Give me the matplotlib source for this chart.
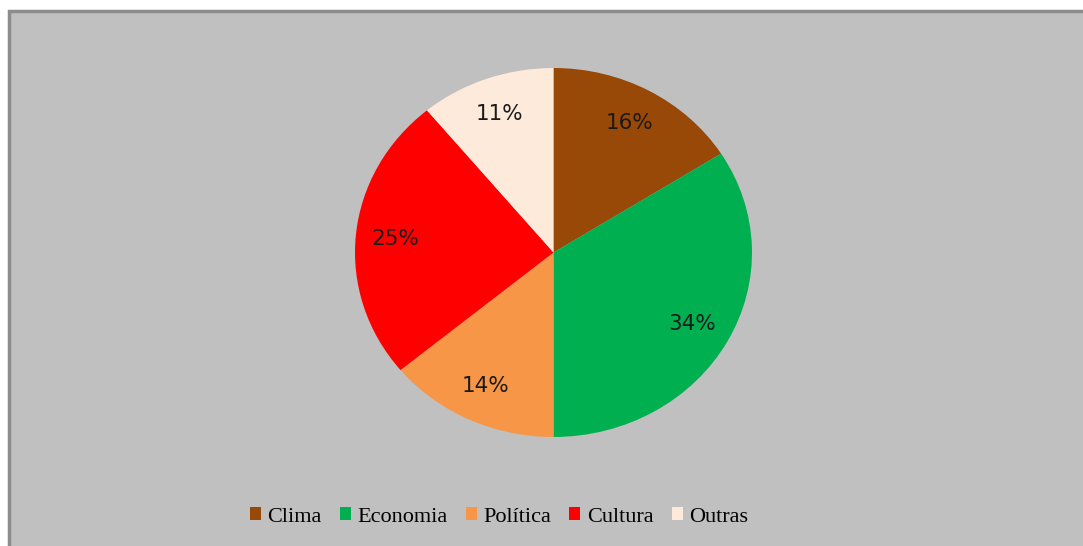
import matplotlib.pyplot as plt
from matplotlib.patches import Rectangle, Patch

# dados do gráfico
temas = ['Clima', 'Economia', 'Política', 'Cultura', 'Outras']
valores = [16, 34, 14, 25, 11]
cores = ['#984807', '#00B050', '#F79646', '#FF0000', '#FDEADA']

W, H = 1083, 546
fig = plt.figure(figsize=(W / 100, H / 100), dpi=100)
fig.patch.set_facecolor('white')

# fundo cinza com borda (só a borda esquerda e de cima ficam visíveis)
fundo = Rectangle((8.5 / W, -0.2), 1.5, 0.2 + (H - 10.5) / H,
                  transform=fig.transFigure, facecolor='#C0C0C0',
                  edgecolor='#8C8C8C', linewidth=2.5, zorder=0)
fig.patches.append(fundo)

ax = fig.add_axes([355 / W, (H - 437) / H, 397 / W, 369 / H])
ax.set_zorder(2)
ax.pie(valores, colors=cores, startangle=90, counterclock=False,
       autopct='%1.0f%%', pctdistance=0.8,
       textprops={'fontsize': 15.5, 'color': '#1a1a1a', 'family': 'DejaVu Sans'})
ax.set_aspect('auto')
ax.set_xlim(-1, 1)
ax.set_ylim(-1, 1)
ax.axis('off')

handles = [Patch(facecolor=c, edgecolor='none') for c in cores]
leg = fig.legend(handles, temas, loc='center', bbox_to_anchor=(499 / W, 1 - 517 / H),
                 ncol=5, frameon=False, handlelength=0.5, handleheight=0.5,
                 handletextpad=0.28, columnspacing=0.82,
                 prop={'family': 'Liberation Serif', 'size': 16})
leg.set_zorder(3)

fig.savefig('out.png', dpi=100)
